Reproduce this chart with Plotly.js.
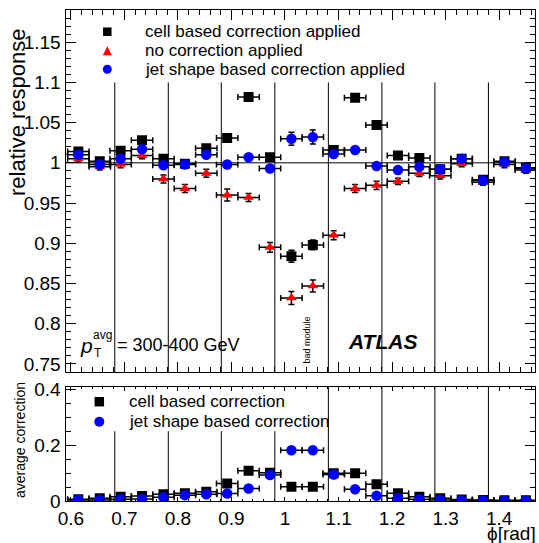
<!DOCTYPE html>
<html><head><meta charset="utf-8">
<script src="https://cdn.plot.ly/plotly-3.0.1.min.js"></script>
<style>html,body{margin:0;padding:0;background:#fff}#chart{width:539px;height:543px}</style>
</head><body><div id="chart"></div>
<script>
// ---- data ----
const phi = [0.614,0.654,0.693,0.733,0.773,0.813,0.853,0.892,0.932,0.972,1.012,1.052,1.091,1.131,1.171,1.211,1.251,1.290,1.330,1.370,1.410,1.450];
const phiHalfWidth = 0.02;

const respCell    = [1.014,1.002,1.015,1.028,1.005,0.999,1.018,1.031,1.082,1.007,0.884,0.898,1.016,1.081,1.047,1.009,1.006,0.992,1.005,0.979,1.002,0.994];
const respCellErr = [0.003,0.003,0.003,0.003,0.003,0.003,0.003,0.003,0.004,0.003,0.0075,0.006,0.004,0.004,0.003,0.003,0.003,0.003,0.003,0.003,0.003,0.003];
const respNone    = [1.005,0.995,0.998,1.009,0.980,0.968,0.987,0.960,0.957,0.895,0.832,0.847,0.910,0.968,0.972,0.977,0.987,0.984,0.999,0.976,0.998,0.991];
const respNoneErr = [0.004,0.004,0.004,0.004,0.005,0.005,0.005,0.0075,0.005,0.006,0.008,0.0075,0.0055,0.005,0.005,0.004,0.004,0.004,0.004,0.004,0.004,0.004];
const respShape   = [1.010,0.998,1.005,1.017,0.997,0.998,1.010,0.998,1.007,0.993,1.030,1.032,1.011,1.016,0.996,0.991,0.995,0.992,1.005,0.978,1.001,0.993];
const respShapeErr= [0.003,0.003,0.003,0.003,0.003,0.003,0.003,0.003,0.003,0.003,0.008,0.0087,0.003,0.003,0.003,0.003,0.003,0.003,0.003,0.003,0.003,0.003];

const corrCell    = [0.006,0.010,0.015,0.018,0.024,0.028,0.033,0.063,0.108,0.101,0.051,0.051,0.099,0.099,0.060,0.028,0.015,0.010,0.005,0.004,0.003,0.003];
const corrCellErr = [0.002,0.002,0.002,0.002,0.002,0.002,0.002,0.003,0.003,0.003,0.003,0.003,0.003,0.003,0.003,0.002,0.002,0.002,0.002,0.002,0.002,0.002];
const corrShape   = [0.004,0.004,0.006,0.007,0.013,0.021,0.024,0.027,0.045,0.093,0.182,0.182,0.095,0.042,0.019,0.010,0.006,0.004,0.002,0.002,0.001,0.001];
const corrShapeErr= [0.002,0.002,0.002,0.002,0.002,0.002,0.002,0.002,0.003,0.003,0.003,0.003,0.003,0.003,0.002,0.002,0.002,0.002,0.002,0.002,0.002,0.002];

const moduleEdges = [0.682,0.782,0.881,0.981,1.081,1.181,1.280,1.380];

const xTickVals = [0.6,0.7,0.8,0.9,1.0,1.1,1.2,1.3,1.4];
const xTickText = ['0.6','0.7','0.8','0.9','1','1.1','1.2','1.3','1.4'];
const yTopTickVals = [0.75,0.8,0.85,0.9,0.95,1.0,1.05,1.1,1.15];
const yTopTickText = ['0.75','0.8','0.85','0.9','0.95','1','1.05','1.1','1.15'];
const yBotTickVals = [0,0.2,0.4];
const yBotTickText = ['0','0.2','0.4'];

const legendTop = ['cell based correction applied','no correction applied','jet shape based correction applied'];
const legendBottom = ['cell based correction','jet shape based correction'];

// ---- helpers ----
const W = 539, H = 543;
const X = p => p / W;
const Y = p => 1 - p / H;
const FONT = 'Liberation Sans, Arial, Helvetica, sans-serif';
const RED = '#ff0000', BLUE = '#0000ff', BLK = '#000000';

function errX(){ return {type:'constant', value:phiHalfWidth, color:BLK, thickness:1.5, width:3}; }
function errY(arr){ return {type:'data', array:arr, visible:true, color:BLK, thickness:1.5, width:3}; }

const traces = [
  {x:phi, y:respCell, xaxis:'x', yaxis:'y', mode:'markers', type:'scatter',
   marker:{symbol:'square', size:10, color:BLK}, error_x:errX(), error_y:errY(respCellErr), name:legendTop[0]},
  {x:phi, y:respNone, xaxis:'x', yaxis:'y', mode:'markers', type:'scatter',
   marker:{symbol:'triangle-up', size:9.5, color:RED}, error_x:errX(), error_y:errY(respNoneErr), name:legendTop[1]},
  {x:phi, y:respShape, xaxis:'x', yaxis:'y', mode:'markers', type:'scatter',
   marker:{symbol:'circle', size:10.5, color:BLUE}, error_x:errX(), error_y:errY(respShapeErr), name:legendTop[2]},
  {x:phi, y:corrCell, xaxis:'x2', yaxis:'y2', mode:'markers', type:'scatter',
   marker:{symbol:'square', size:10, color:BLK}, error_x:errX(), error_y:errY(corrCellErr), name:legendBottom[0]},
  {x:phi, y:corrShape, xaxis:'x2', yaxis:'y2', mode:'markers', type:'scatter',
   marker:{symbol:'circle', size:10.5, color:BLUE}, error_x:errX(), error_y:errY(corrShapeErr), name:legendBottom[1]}
];

const xDomain = [65.5/W, 535/W];
const commonAxis = {showline:true, linecolor:BLK, linewidth:1, mirror:'allticks', ticks:'inside',
  tickcolor:BLK, showgrid:false, zeroline:false, tickfont:{family:FONT, size:19, color:BLK}};

const layout = {
  width:W, height:H, margin:{l:0,r:0,t:0,b:0}, paper_bgcolor:'#fff', plot_bgcolor:'#fff',
  showlegend:false, font:{family:FONT, color:BLK},
  xaxis: Object.assign({}, commonAxis, {domain:xDomain, anchor:'y', range:[0.59,1.467],
    tickmode:'array', tickvals:xTickVals, ticktext:xTickText, showticklabels:false, ticklen:10, tickwidth:1,
    minor:{tickmode:'linear', tick0:0.6, dtick:0.02, ticks:'inside', ticklen:5, tickcolor:BLK, tickwidth:1}}),
  yaxis: Object.assign({}, commonAxis, {domain:[Y(372), Y(10)], anchor:'x', range:[0.74,1.19],
    tickmode:'array', tickvals:yTopTickVals, ticktext:yTopTickText, ticklen:10, tickwidth:1,
    minor:{tickmode:'linear', tick0:0.75, dtick:0.01, ticks:'inside', ticklen:5, tickcolor:BLK, tickwidth:1}}),
  xaxis2: Object.assign({}, commonAxis, {domain:xDomain, anchor:'y2', range:[0.59,1.467],
    tickmode:'array', tickvals:xTickVals, ticktext:xTickText, ticklen:4, tickwidth:1,
    minor:{tickmode:'linear', tick0:0.6, dtick:0.02, ticks:'inside', ticklen:2, tickcolor:BLK, tickwidth:1}}),
  yaxis2: Object.assign({}, commonAxis, {domain:[Y(501), Y(386.5)], anchor:'x2', range:[0,0.41],
    tickmode:'array', tickvals:yBotTickVals, ticktext:yBotTickText, ticklen:10, tickwidth:1,
    minor:{tickmode:'linear', tick0:0, dtick:0.05, ticks:'inside', ticklen:5, tickcolor:BLK, tickwidth:1}}),
  shapes: [],
  annotations: []
};

// module boundary lines
moduleEdges.forEach(e => {
  layout.shapes.push({type:'line', xref:'x', yref:'y', x0:e, x1:e, y0:0.74, y1:1.1, line:{color:BLK, width:1}, layer:'below'});
  layout.shapes.push({type:'line', xref:'x2', yref:'y2', x0:e, x1:e, y0:0, y1:(e < 1.07 ? 0.25 : 0.41), line:{color:BLK, width:1}, layer:'below'});
});
// reference line at response 1
layout.shapes.push({type:'line', xref:'x domain', yref:'y', x0:0, x1:1, y0:1, y1:1, line:{color:BLK, width:1}, layer:'below'});

// legend keys (paper coords)
function sq(cx, cy, s, c){ return {type:'rect', xref:'paper', yref:'paper', x0:X(cx-s/2), x1:X(cx+s/2), y0:Y(cy+s/2), y1:Y(cy-s/2), fillcolor:c, line:{width:0}}; }
function ci(cx, cy, s, c){ return {type:'circle', xref:'paper', yref:'paper', x0:X(cx-s/2), x1:X(cx+s/2), y0:Y(cy+s/2), y1:Y(cy-s/2), fillcolor:c, line:{width:0}}; }
function tri(cx, cy, s, c){
  return {type:'path', xref:'paper', yref:'paper',
    path:`M ${X(cx-s/2)} ${Y(cy+s/2)} L ${X(cx+s/2)} ${Y(cy+s/2)} L ${X(cx)} ${Y(cy-s/2)} Z`, fillcolor:c, line:{width:0}};
}
layout.shapes.push(sq(107.3, 31.7, 8.5, BLK));
layout.shapes.push(tri(107.3, 50.7, 9, RED));
layout.shapes.push(ci(107.3, 69.3, 9, BLUE));
layout.shapes.push(sq(99.3, 401.7, 9.5, BLK));
layout.shapes.push(ci(99.3, 421.7, 10, BLUE));

function txt(text, x, y, size, opts){
  return Object.assign({text:text, xref:'paper', yref:'paper', x:X(x), y:Y(y), showarrow:false,
    xanchor:'left', yanchor:'middle', font:{family:FONT, size:size, color:BLK}}, opts||{});
}
legendTop.forEach((t,i) => layout.annotations.push(txt(t, 142.7, [31.7,50.7,69.3][i], 17)));
legendBottom.forEach((t,i) => layout.annotations.push(txt(t, 127.3, [401.7,421.7][i], 17)));

// axis titles
layout.annotations.push(txt('relative response', 17, 112, 22, {xanchor:'center', textangle:-90}));
layout.annotations.push(txt('average correction', 20, 440, 14, {xanchor:'center', textangle:-90}));
layout.annotations.push(txt('\u03d5[rad]', 537, 533, 19, {xanchor:'right', borderpad:0}));

// labels
layout.annotations.push(txt('<i>p</i>', 86, 345, 21, {xanchor:'center'}));
layout.annotations.push(txt('avg', 102.5, 335, 12, {xanchor:'center'}));
layout.annotations.push(txt('T', 97.5, 353, 12, {xanchor:'center'}));
layout.annotations.push(txt('= 300-400 GeV', 115, 345, 18));
layout.annotations.push(txt('<b><i>ATLAS</i></b>', 382, 342, 21, {xanchor:'center'}));
layout.annotations.push(txt('bad module', 306.5, 340, 9, {xanchor:'center', textangle:-90}));

Plotly.newPlot('chart', traces, layout, {staticPlot:true, displayModeBar:false});
</script>
</body></html>
